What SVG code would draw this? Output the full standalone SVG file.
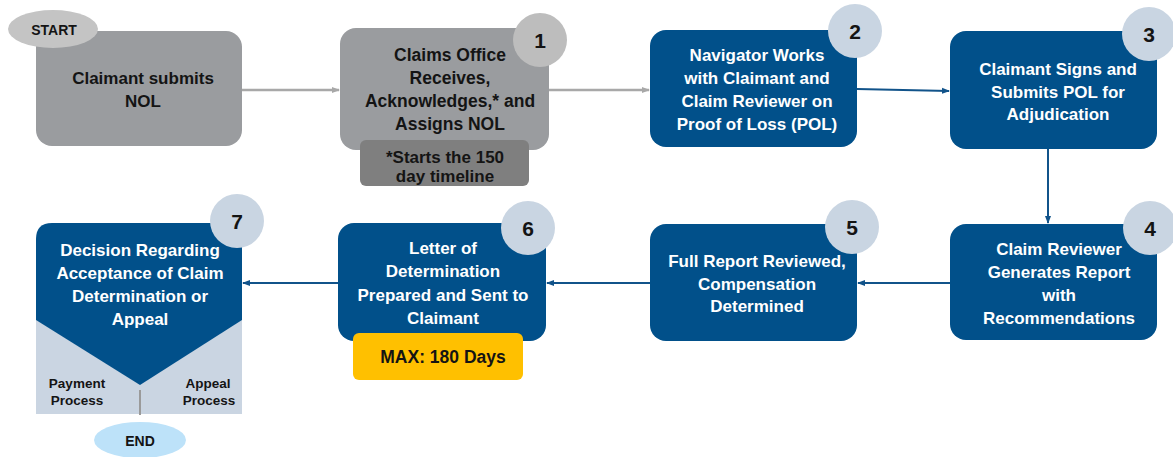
<svg xmlns="http://www.w3.org/2000/svg" width="1173" height="457" viewBox="0 0 1173 457">
<defs>
<style>
text{font-family:"Liberation Sans",Arial,sans-serif;font-weight:bold;text-anchor:middle}
.t{font-size:17px}
.w{fill:#ffffff}
.k{fill:#141414}
.gbox{fill:#9A9C9F}
.bbox{fill:#01508A}
.cg{fill:#BDBDBD}
.cb{fill:#C9D5E2}
.num{font-size:21px;fill:#141414;font-weight:bold}
.sm{font-size:13.5px}
.ga{stroke:#A8A8A8;stroke-width:2.5;fill:none}
.ba{stroke:#11538A;stroke-width:2;fill:none}
</style>
<marker id="mg" markerWidth="8" markerHeight="8" refX="7" refY="4" orient="auto" markerUnits="userSpaceOnUse"><path d="M0,1 L8,4 L0,7 Z" fill="#A8A8A8"/></marker>
<marker id="mb" markerWidth="8" markerHeight="8" refX="7" refY="4" orient="auto" markerUnits="userSpaceOnUse"><path d="M0,1 L8,4 L0,7 Z" fill="#11538A"/></marker>
</defs>
<rect width="1173" height="457" fill="#ffffff"/>

<g id="connectors">
<line class="ga" x1="242" y1="90" x2="339" y2="90" marker-end="url(#mg)"/>
<line class="ga" x1="549" y1="90" x2="649" y2="90" marker-end="url(#mg)"/>
<line class="ba" x1="857" y1="89" x2="949" y2="91" marker-end="url(#mb)"/>
<line class="ba" x1="1048" y1="149" x2="1048" y2="223" marker-end="url(#mb)"/>
<line class="ba" x1="950" y1="283" x2="858" y2="283" marker-end="url(#mb)"/>
<line class="ba" x1="650" y1="283" x2="547" y2="283" marker-end="url(#mb)"/>
<line class="ba" x1="338" y1="283" x2="243" y2="283" marker-end="url(#mb)"/>
</g>

<g id="node0">
<rect class="gbox" x="36" y="31" width="206" height="115" rx="16"/>
<text class="t k" x="143" y="84">Claimant submits</text>
<text class="t k" x="143" y="107">NOL</text>
</g>
<g id="start">
<ellipse cx="53" cy="29" rx="45" ry="19" fill="#C4C4C4"/>
<text x="54" y="35" style="font-size:14px" class="k">START</text>
</g>

<g id="node1">
<rect class="gbox" x="340" y="28" width="209" height="122" rx="16"/>
<circle class="cg" cx="540" cy="40" r="27"/>
<text class="num" x="540" y="48">1</text>
<text class="t k" x="450" y="61" style="font-size:17.5px">Claims Office</text>
<text class="t k" x="450" y="84" style="font-size:17.5px">Receives,</text>
<text class="t k" x="450" y="107" style="font-size:17.5px">Acknowledges,* and</text>
<text class="t k" x="450" y="130" style="font-size:17.5px">Assigns NOL</text>
<rect x="360" y="140" width="169" height="46" rx="6" fill="#7F7F7F"/>
<text class="t k" x="445" y="163">*Starts the 150</text>
<text class="t k" x="445" y="182">day timeline</text>
</g>

<g id="node2">
<rect class="bbox" x="650" y="30" width="207" height="117" rx="16"/>
<circle class="cb" cx="855" cy="31" r="27"/>
<text class="num" x="855" y="39">2</text>
<text class="t w" x="757" y="61">Navigator Works</text>
<text class="t w" x="757" y="84">with Claimant and</text>
<text class="t w" x="757" y="107">Claim Reviewer on</text>
<text class="t w" x="757" y="130">Proof of Loss (POL)</text>
</g>

<g id="node3">
<rect class="bbox" x="950" y="31" width="207" height="118" rx="16"/>
<circle class="cb" cx="1149" cy="34" r="27"/>
<text class="num" x="1149" y="42">3</text>
<text class="t w" x="1058" y="75">Claimant Signs and</text>
<text class="t w" x="1058" y="98">Submits POL for</text>
<text class="t w" x="1058" y="120">Adjudication</text>
</g>

<g id="node4">
<rect class="bbox" x="950" y="224" width="207" height="116" rx="16"/>
<circle class="cb" cx="1150" cy="228" r="27"/>
<text class="num" x="1150" y="236">4</text>
<text class="t w" x="1059" y="255">Claim Reviewer</text>
<text class="t w" x="1059" y="278">Generates Report</text>
<text class="t w" x="1059" y="301">with</text>
<text class="t w" x="1059" y="324">Recommendations</text>
</g>

<g id="node5">
<rect class="bbox" x="650" y="224" width="207" height="117" rx="16"/>
<circle class="cb" cx="852" cy="227" r="27"/>
<text class="num" x="852" y="235">5</text>
<text class="t w" x="757" y="267">Full Report Reviewed,</text>
<text class="t w" x="757" y="290">Compensation</text>
<text class="t w" x="757" y="312">Determined</text>
</g>

<g id="node6">
<rect class="bbox" x="338" y="223" width="208" height="118" rx="16"/>
<circle class="cb" cx="528" cy="228" r="27"/>
<text class="num" x="528" y="236">6</text>
<text class="t w" x="443" y="254">Letter of</text>
<text class="t w" x="443" y="277">Determination</text>
<text class="t w" x="443" y="301">Prepared and Sent to</text>
<text class="t w" x="443" y="324">Claimant</text>
<rect x="353" y="333" width="170" height="47" rx="6" fill="#FFC000"/>
<text class="t k" x="443" y="363" style="font-size:17.5px">MAX: 180 Days</text>
</g>

<g id="node7">
<rect x="36" y="318" width="206" height="96" fill="#CAD5E2"/>
<path class="bbox" d="M36,239 Q36,223 52,223 H226 Q242,223 242,239 V320 L140,385 L36,320 Z"/>
<line x1="140" y1="390" x2="140" y2="415" stroke="#9A9A9A" stroke-width="2"/>
<circle class="cb" cx="237" cy="221" r="27"/>
<text class="num" x="237" y="229">7</text>
<text class="t w" x="140" y="256">Decision Regarding</text>
<text class="t w" x="140" y="279">Acceptance of Claim</text>
<text class="t w" x="140" y="302">Determination or</text>
<text class="t w" x="140" y="325">Appeal</text>
<text class="k sm" x="77" y="388">Payment</text>
<text class="k sm" x="77" y="405">Process</text>
<text class="k sm" x="208" y="388">Appeal</text>
<text class="k sm" x="209" y="405">Process</text>
</g>

<g id="end">
<ellipse cx="140" cy="440" rx="46" ry="18" fill="#BDE2F9"/>
<text x="140" y="446" style="font-size:14px" class="k">END</text>
</g>
</svg>
